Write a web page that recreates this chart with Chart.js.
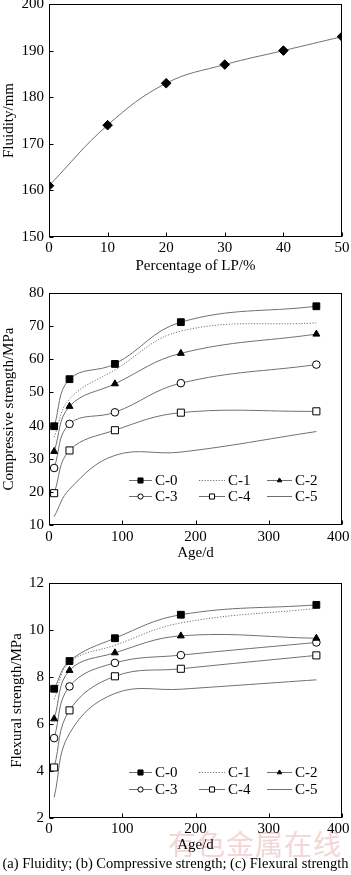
<!DOCTYPE html>
<html><head><meta charset="utf-8">
<script src="https://cdn.jsdelivr.net/npm/chart.js@4.4.0/dist/chart.umd.min.js"></script>
<style>
html,body{margin:0;padding:0;background:#fff;width:351px;height:875px;overflow:hidden;position:relative}
canvas{position:absolute;left:0}
#caption{position:absolute;left:0;top:854px;width:351px;font:14.5px 'Liberation Serif';line-height:18px;white-space:nowrap;text-align:center;color:#000}
#wm{position:absolute;left:168px;top:829px;font:28px 'Noto Sans CJK SC';line-height:28px;color:#f3d6d6;letter-spacing:1px;white-space:nowrap}
</style></head><body>
<div id="wm">有色金属在线</div>
<canvas id="ca" width="351" height="285" style="top:-6px;width:351px;height:285px"></canvas>
<canvas id="cb" width="351" height="286" style="top:280px;width:351px;height:286px"></canvas>
<canvas id="cc" width="351" height="288" style="top:570px;width:351px;height:288px"></canvas>
<div id="caption">(a) Fluidity; (b) Compressive strength; (c) Flexural strength</div>
<script>
// ---- data ----
const lpPercent = [0, 10, 20, 30, 40, 50];
const fluidity = [161, 174, 183, 187, 190, 193];

const ages = [7, 28, 90, 180, 365];
const seriesNames = ['C-0', 'C-1', 'C-2', 'C-3', 'C-4', 'C-5'];

const compC0 = [39.8, 54.0, 58.6, 71.2, 76.0];
const compC1 = [36.5, 48.0, 56.8, 68.5, 71.0];
const compC2 = [32.2, 45.8, 52.6, 61.8, 67.6];
const compC3 = [27.2, 40.5, 44.0, 52.8, 58.4];
const compC4 = [19.6, 32.5, 38.6, 43.9, 44.3];
const compC5 = [12.5, 20.8, 31.0, 32.0, 38.2];

const flexC0 = [7.5, 8.68, 9.65, 10.65, 11.07];
const flexC1 = [7.05, 8.62, 9.35, 10.3, 10.92];
const flexC2 = [6.22, 8.28, 9.03, 9.75, 9.65];
const flexC3 = [5.4, 7.6, 8.6, 8.93, 9.47];
const flexC4 = [4.15, 6.58, 8.03, 8.35, 8.92];
const flexC5 = [2.88, 5.6, 7.3, 7.48, 7.88];

const fluidityTicks = [150, 160, 170, 180, 190, 200];
const compTicks = [10, 20, 30, 40, 50, 60, 70, 80];
const flexTicks = [2, 4, 6, 8, 10, 12];
const ageTicks = [0, 100, 200, 300, 400];

// ---- styles ----
const FONT = 'Liberation Serif';
const LINE = '#707070';
const styles = [
  {pointStyle: 'rect', radius: 4.8, fill: '#000', dash: []},
  {pointStyle: false, radius: 0, fill: '#000', dash: [1.2, 1.6]},
  {pointStyle: 'triangle', radius: 4, fill: '#000', dash: []},
  {pointStyle: 'circle', radius: 3.8, fill: '#fff', dash: []},
  {pointStyle: 'rect', radius: 5, fill: '#fff', dash: []},
  {pointStyle: false, radius: 0, fill: '#000', dash: []}
];

function mkSeries(xs, ys) { return xs.map((x, i) => ({x: x, y: ys[i]})); }

function mkDatasets(list) {
  return list.map((ys, i) => ({
    label: seriesNames[i],
    data: mkSeries(ages, ys),
    borderColor: LINE,
    borderWidth: 1,
    borderDash: styles[i].dash,
    tension: 0.4,
    pointStyle: styles[i].pointStyle || 'circle',
    pointRadius: styles[i].radius,
    pointHoverRadius: styles[i].radius,
    pointBackgroundColor: styles[i].fill,
    pointBorderColor: '#000',
    pointBorderWidth: 1,
    _legendStyle: styles[i]
  }));
}

// frame + inward ticks + x tick labels (kept inside the canvas)
const frameTicks = {
  id: 'frameTicks',
  afterDatasetsDraw(chart, args, opts) {
    const {ctx, chartArea: a, scales} = chart;
    const L = Math.round(a.left) + 0.5, R = Math.round(a.right) - 0.5;
    const T = Math.round(a.top) + 0.5, B = Math.round(a.bottom) - 0.5;
    ctx.save();
    ctx.strokeStyle = '#000';
    ctx.lineWidth = 1;
    ctx.setLineDash([]);
    ctx.strokeRect(L, T, R - L, B - T);
    ctx.beginPath();
    scales.x.ticks.forEach(t => {
      const px = Math.round(scales.x.getPixelForValue(t.value)) + 0.5;
      ctx.moveTo(px, B); ctx.lineTo(px, B - 4);
    });
    scales.y.ticks.forEach(t => {
      const py = Math.round(scales.y.getPixelForValue(t.value)) + 0.5;
      ctx.moveTo(L, py); ctx.lineTo(L + 4, py);
    });
    ctx.stroke();
    // x tick labels
    ctx.fillStyle = '#000';
    ctx.font = '15px ' + FONT;
    ctx.textAlign = 'center';
    ctx.textBaseline = 'middle';
    const W = chart.width;
    scales.x.ticks.forEach(t => {
      const s = String(t.value);
      const w = ctx.measureText(s).width;
      let px = scales.x.getPixelForValue(t.value);
      px = Math.min(px, W - 1.5 - w / 2);
      ctx.fillText(s, px, a.bottom + opts.labelDy);
    });
    ctx.restore();
  }
};

function drawMarker(ctx, st, x, y, r) {
  if (!st.pointStyle) return;
  ctx.beginPath();
  if (st.pointStyle === 'rect') {
    const s = r * Math.SQRT1_2;
    ctx.rect(x - s, y - s, 2 * s, 2 * s);
  } else if (st.pointStyle === 'circle') {
    ctx.arc(x, y, r, 0, Math.PI * 2);
  } else if (st.pointStyle === 'triangle') {
    ctx.moveTo(x, y - r);
    ctx.lineTo(x + r * 0.866, y + r * 0.5);
    ctx.lineTo(x - r * 0.866, y + r * 0.5);
    ctx.closePath();
  }
  ctx.fillStyle = st.fill;
  ctx.fill();
  ctx.strokeStyle = '#000';
  ctx.lineWidth = 1;
  ctx.stroke();
}

const innerLegend = {
  id: 'innerLegend',
  afterDraw(chart, args, opts) {
    if (!opts || !opts.rows) return;
    const ctx = chart.ctx;
    ctx.save();
    chart.data.datasets.forEach((ds, i) => {
      const col = i % 3, row = Math.floor(i / 3);
      const y = opts.rows[row] + 0.5;
      const x0 = opts.lines[col][0], x1 = opts.lines[col][1];
      ctx.strokeStyle = ds.borderColor;
      ctx.lineWidth = 1;
      ctx.setLineDash(ds.borderDash || []);
      ctx.beginPath(); ctx.moveTo(x0, y); ctx.lineTo(x1, y); ctx.stroke();
      ctx.setLineDash([]);
      const st = ds._legendStyle;
      const r = st.pointStyle === 'rect' ? 3.6 : 2.6;
      drawMarker(ctx, st, (x0 + x1) / 2, y, r);
      ctx.fillStyle = '#000';
      ctx.font = '15px ' + FONT;
      ctx.textBaseline = 'middle';
      ctx.textAlign = 'left';
      ctx.fillText(ds.label, opts.text[col], y + 0.5);
    });
    ctx.restore();
  }
};

function mkOptions(cfg) {
  return {
    responsive: false,
    animation: false,
    devicePixelRatio: 1,
    layout: {padding: {top: cfg.top, right: 9, left: 0, bottom: 0}},
    plugins: {
      legend: {display: false},
      tooltip: {enabled: false},
      innerLegend: cfg.legend || {},
      frameTicks: {labelDy: cfg.labelDy}
    },
    scales: {
      x: {
        type: 'linear',
        min: cfg.xTicks[0], max: cfg.xTicks[cfg.xTicks.length - 1],
        afterBuildTicks(s) { s.ticks = cfg.xTicks.map(v => ({value: v})); },
        grid: {display: false, drawTicks: false},
        border: {display: false},
        ticks: {display: false},
        title: {display: true, text: cfg.xTitle, color: '#000', font: {family: FONT, size: 15}, padding: {top: 0, bottom: 4}},
        afterFit(s) { s.height = cfg.xH; s.paddingLeft = 0; s.paddingRight = 0; }
      },
      y: {
        type: 'linear',
        min: cfg.yTicks[0], max: cfg.yTicks[cfg.yTicks.length - 1],
        afterBuildTicks(s) { s.ticks = cfg.yTicks.map(v => ({value: v})); },
        grid: {display: false, drawTicks: false},
        border: {display: false},
        ticks: {color: '#000', font: {family: FONT, size: 15}, padding: 5},
        title: {display: true, text: cfg.yTitle, color: '#000', font: {family: FONT, size: 15}, padding: {top: cfg.yTitlePad, bottom: 0}},
        afterFit(s) { s.width = 49; s.paddingTop = 0; s.paddingBottom = 0; }
      }
    }
  };
}

const legendOpts = (rows) => ({rows: rows, lines: [[129, 152], [199, 225], [267, 292]], text: [155, 228, 295]});

// (a)
new Chart(document.getElementById('ca'), {
  type: 'line',
  data: {datasets: [{
    label: 'Fluidity',
    data: mkSeries(lpPercent, fluidity),
    borderColor: LINE, borderWidth: 1, tension: 0.4,
    pointStyle: 'rectRot', pointRadius: 4.8, pointHoverRadius: 4.8,
    pointBackgroundColor: '#000', pointBorderColor: '#000', pointBorderWidth: 1
  }]},
  options: mkOptions({top: 10, xTicks: lpPercent, yTicks: fluidityTicks, labelDy: 11, xH: 42,
    xTitle: 'Percentage of LP/%', yTitle: 'Fluidity/mm', yTitlePad: 0}),
  plugins: [frameTicks]
});

// (b)
new Chart(document.getElementById('cb'), {
  type: 'line',
  data: {datasets: mkDatasets([compC0, compC1, compC2, compC3, compC4, compC5])},
  options: mkOptions({top: 13, xTicks: ageTicks, yTicks: compTicks, labelDy: 12, xH: 41,
    xTitle: 'Age/d', yTitle: 'Compressive strength/MPa', yTitlePad: 0, legend: legendOpts([200, 216])}),
  plugins: [frameTicks, innerLegend]
});

// (c)
new Chart(document.getElementById('cc'), {
  type: 'line',
  data: {datasets: mkDatasets([flexC0, flexC1, flexC2, flexC3, flexC4, flexC5])},
  options: mkOptions({top: 13, xTicks: ageTicks, yTicks: flexTicks, labelDy: 11, xH: 40,
    xTitle: 'Age/d', yTitle: 'Flexural strength/MPa', yTitlePad: 8, legend: legendOpts([202, 219])}),
  plugins: [frameTicks, innerLegend]
});
</script>
</body></html>
